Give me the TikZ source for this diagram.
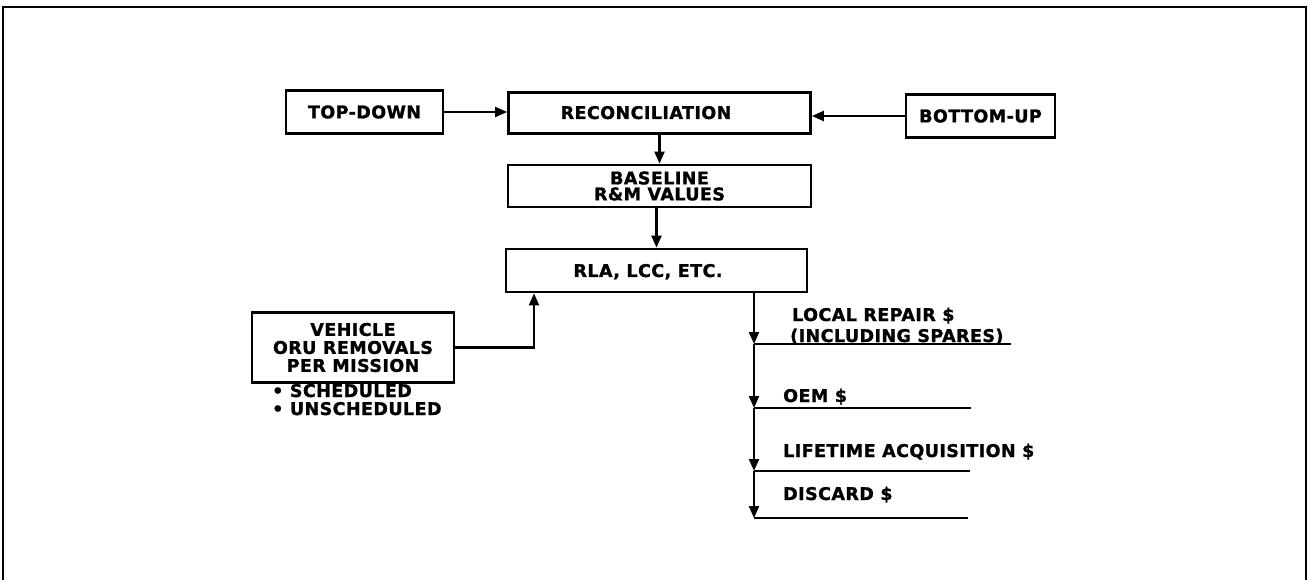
\documentclass[tikz,border=0pt]{standalone}
\usepackage{fontspec}
\setmainfont{DejaVu Sans}[LetterSpace=2.5, BoldFeatures={FakeBold=1.3}]
\usetikzlibrary{arrows.meta}
\begin{document}
\begin{tikzpicture}[x=1pt,y=-1pt,
  txt/.style={font=\fontsize{17.5}{18}\selectfont\bfseries, inner sep=0pt},
  box/.style={draw, line width=2.8pt, inner sep=0pt, font=\fontsize{17.5}{18}\selectfont\bfseries},
  conn/.style={line width=2.2pt},
  arr/.style={conn, -{Triangle[length=12pt,width=10pt]}}]
\useasboundingbox (0,0) rectangle (1310,580);
% outer frame
\draw[line width=2.8pt] (3,580) -- (3,7) -- (1306,7) -- (1306,580);

% top row
\node[box, minimum width=157pt, minimum height=43pt] (td) at (364.5,112) {TOP-DOWN};
\node[box, minimum width=302pt, minimum height=41pt] (rec) at (659.5,113) {};
\node[txt, anchor=base] (rect) at (646,119) {RECONCILIATION};
\node[box, minimum width=149pt, minimum height=43pt] (bu) at (980.5,116) {BOTTOM-UP};

% baseline
\node[box, minimum width=303pt, minimum height=42pt, align=center,
      font=\fontsize{17.5}{16}\selectfont\bfseries] (bl) at (659.5,186) {BASELINE\\R\&M VALUES};

% RLA
\node[box, minimum width=301pt, minimum height=43pt] (rla) at (656.5,270.5) {};
\node[txt, anchor=base] (rlat) at (648,277) {RLA, LCC, ETC.};

% vehicle
\node[box, minimum width=202pt, minimum height=70pt, align=center] (veh) at (353,347.5)
  {VEHICLE\\ORU REMOVALS\\PER MISSION};
\node[txt, anchor=base west, align=left] (b1) at (272,397) {• SCHEDULED};
\node[txt, anchor=base west, align=left] (b2) at (272,415) {• UNSCHEDULED};

% connectors top
\draw[arr] (td.east) -- (td.east -| rec.west);
\draw[arr] (bu.west) -- (bu.west -| rec.east);
\draw[arr] (rec.south) -- (bl.north);
\draw[arr] (bl.south -| rla.north) -- (rla.north);
\coordinate (va) at (534,0);
\draw[arr] (veh.east) -| (va |- rla.south);

% output branches
\coordinate (j1) at (754,344);
\coordinate (j2) at (754,408);
\coordinate (j3) at (754,471);
\coordinate (j4) at (754,518);
\coordinate (r0) at (rla.south -| j1);
\coordinate (e1) at (1011,344);
\coordinate (e2) at (971,408);
\coordinate (e3) at (970,471);
\coordinate (e4) at (968,518);
\draw[arr] (r0) -- (j1);
\draw[arr] (j1) -- (j2);
\draw[arr] (j2) -- (j3);
\draw[arr] (j3) -- (j4);
\draw[conn] (j1) -- (e1);
\draw[conn] (j2) -- (e2);
\draw[conn] (j3) -- (e3);
\draw[conn] (j4) -- (e4);

\node[txt, anchor=base west] (l1a) at (792,321) {LOCAL REPAIR \$};
\node[txt, anchor=base west] (l1b) at (790,342) {(INCLUDING SPARES)};
\node[txt, anchor=base west] (l2) at (783,402) {OEM \$};
\node[txt, anchor=base west] (l3) at (783,457) {LIFETIME ACQUISITION \$};
\node[txt, anchor=base west] (l4) at (783,500) {DISCARD \$};
\end{tikzpicture}
\end{document}
